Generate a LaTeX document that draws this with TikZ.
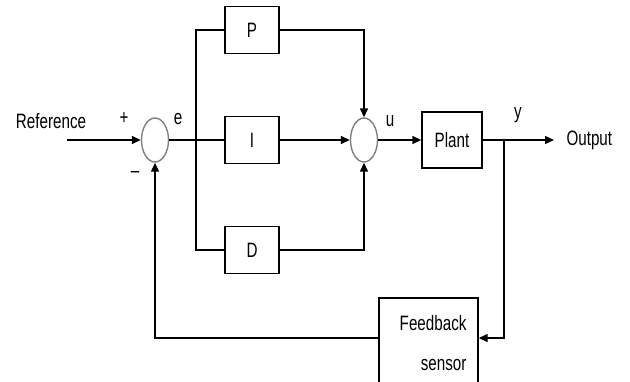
\documentclass[tikz,border=0pt]{standalone}
\usepackage{fontspec}
\setmainfont{Liberation Sans}
\usepackage{graphicx}
\usepackage{tikz}
\usetikzlibrary{arrows.meta,positioning,shapes.geometric}

% tall, narrow lettering as in the figure
\newcommand{\tl}[1]{\scalebox{0.95}[1.3]{#1}}

\begin{document}
\begin{tikzpicture}[
    x=1pt, y=-1pt,
    >={Triangle[length=9pt,width=8pt]},
    every node/.style={font=\fontsize{16}{19}\selectfont},
    block/.style={draw, line width=1.4pt, minimum width=54pt, minimum height=47pt, inner sep=0pt},
    sumnode/.style={draw=gray, line width=1.4pt, ellipse, minimum width=27pt, minimum height=44pt, inner sep=0pt},
    wire/.style={line width=1.4pt}
]

\useasboundingbox (0,0) rectangle (630,381);

% Summing junctions
\node[sumnode] (sumE) at (155,140) {};
\node[sumnode] (sumU) at (364,140) {};

% PID branches
\node[block] (P) at (252,30) {\tl{P}};
\node[block] (I) at (252,140) {\tl{I}};
\node[block] (D) at (252,250) {\tl{D}};

% Plant and sensor
\node[block, minimum width=60pt, minimum height=56pt] (plant) at (452,140) {\tl{Plant}};
\node[block, minimum width=99pt, minimum height=100pt] (sensor) at (428.5,348) {};
\node[anchor=east] (sensorA) at (470,323) {\tl{Feedback}};
\node[anchor=east] (sensorB) at (470,365) {\tl{sensor}};

% Labels
\node (ref) at (51,121) {\tl{Reference}};
\node (plus) at (124,118) {\tl{+}};
\node (minus) at (135,175) {\tl{--}};
\node (lblE) at (178,119) {\tl{e}};
\node (lblU) at (390,121) {\tl{u}};
\node (lblY) at (518,115) {\tl{y}};
\node[anchor=west] (out) at (563,140) {\tl{Output}};

\coordinate (refIn) at (67,140);
\coordinate (split) at (196,140);
\coordinate (tap) at (504,140);
\coordinate (outEnd) at (554,140);

% Forward path
\draw[wire,->] (refIn) -- (sumE.west);
\draw[wire] (sumE.east) -- (I.west);
\draw[wire] (split) |- (P.west);
\draw[wire] (split) |- (D.west);
\draw[wire,->] (P.east) -| (sumU.north);
\draw[wire,->] (I.east) -- (sumU.west);
\draw[wire,->] (D.east) -| (sumU.south);
\draw[wire,->] (sumU.east) -- (plant.west);
\draw[wire,->] (plant.east) -- (outEnd);

% Feedback path
\draw[wire,->] (tap) |- (sensor.east |- 0,338);
\draw[wire,->] (sensor.west |- 0,338) -| (sumE.south);

\end{tikzpicture}
\end{document}
